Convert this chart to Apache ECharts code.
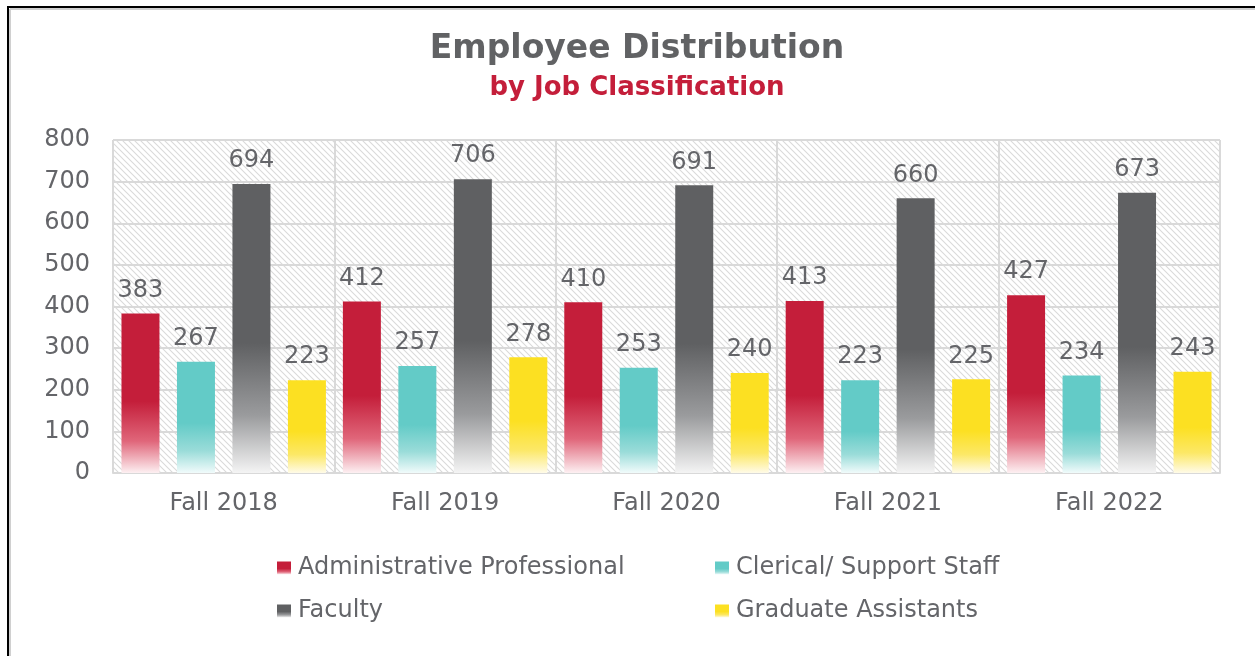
<!DOCTYPE html>
<html>
<head>
<meta charset="utf-8">
<script src="https://cdn.jsdelivr.net/npm/echarts@6/dist/echarts.min.js"></script>
<style>
  html, body { margin: 0; padding: 0; background: #ffffff; }
  #chart { width: 1255px; height: 656px; }
</style>
</head>
<body>
<div id="chart"></div>
<script>
// Headcount by job classification, fall terms
const categories = ['Fall 2018', 'Fall 2019', 'Fall 2020', 'Fall 2021', 'Fall 2022'];
const seriesNames = ['Administrative Professional', 'Clerical/ Support Staff', 'Faculty', 'Graduate Assistants'];
const adminProfessional = [383, 412, 410, 413, 427];
const clericalSupport = [267, 257, 253, 223, 234];
const faculty = [694, 706, 691, 660, 673];
const graduateAssistants = [223, 278, 240, 225, 243];
const yTicks = [0, 100, 200, 300, 400, 500, 600, 700, 800];

const FONT = '"DejaVu Sans", sans-serif';
const TEXT = '#646569';

// Diagonal hatch used behind the plot
function hatchPattern() {
  const c = document.createElement('canvas');
  const s = 6;
  c.width = s; c.height = s;
  const g = c.getContext('2d');
  g.fillStyle = '#ffffff';
  g.fillRect(0, 0, s, s);
  g.strokeStyle = '#dadada';
  g.lineWidth = 1.1;
  g.beginPath();
  g.moveTo(-1, -1); g.lineTo(s + 1, s + 1);
  g.moveTo(-1, s - 1); g.lineTo(1, s + 1);
  g.moveTo(s - 1, -1); g.lineTo(s + 1, 1);
  g.stroke();
  return { image: c, repeat: 'repeat' };
}

function fade(color, mid, tail) {
  return new echarts.graphic.LinearGradient(0, 0, 0, 1, [
    { offset: 0, color: color },
    { offset: 0.55, color: color },
    { offset: 0.8, color: mid },
    { offset: 1, color: tail }
  ]);
}

const palette = [
  fade('#c41e3a', '#e0667a', '#fdf0f2'),
  fade('#63cbc7', '#9adcd9', '#f1fbfb'),
  fade('#5f6062', '#9a9b9d', '#f4f4f4'),
  fade('#fce022', '#fce866', '#fffbe8')
];
const values = [adminProfessional, clericalSupport, faculty, graduateAssistants];

const legendSpots = [
  { left: 277, top: 556 },
  { left: 715, top: 556 },
  { left: 277, top: 599 },
  { left: 715, top: 599 }
];

const chart = echarts.init(document.getElementById('chart'), null, { renderer: 'canvas' });

chart.setOption({
  backgroundColor: '#ffffff',
  animation: false,
  title: [
    {
      text: 'Employee Distribution',
      left: 632, top: 28, textAlign: 'center',
      textStyle: { fontFamily: FONT, fontSize: 33, fontWeight: 'bold', color: '#616264' }
    },
    {
      text: 'by Job Classification',
      left: 632, top: 70, textAlign: 'center',
      textStyle: { fontFamily: FONT, fontSize: 26, fontWeight: 'bold', color: '#c41e3a' }
    }
  ],
  legend: seriesNames.map((n, i) => ({
    data: [n],
    left: legendSpots[i].left,
    top: legendSpots[i].top,
    padding: 0,
    itemWidth: 14,
    itemHeight: 13,
    itemGap: 10,
    icon: 'rect',
    selectedMode: false,
    textStyle: { fontFamily: FONT, fontSize: 24, color: TEXT, padding: [0, 0, 0, 2] }
  })),
  grid: {
    left: 113, right: 35, top: 140, bottom: 183,
    show: true,
    borderWidth: 0,
    backgroundColor: hatchPattern()
  },
  xAxis: {
    type: 'category',
    data: categories,
    axisLine: { show: true, lineStyle: { color: '#d9d9d9', width: 2 } },
    axisTick: { show: false },
    splitLine: { show: true, lineStyle: { color: '#d9d9d9', width: 2 } },
    axisLabel: { fontFamily: FONT, fontSize: 24, color: TEXT, margin: 19 }
  },
  yAxis: {
    type: 'value',
    min: yTicks[0],
    max: yTicks[yTicks.length - 1],
    interval: yTicks[1] - yTicks[0],
    axisLine: { show: false },
    axisTick: { show: false },
    splitLine: { show: true, lineStyle: { color: '#d9d9d9', width: 2 } },
    axisLabel: { fontFamily: FONT, fontSize: 24, color: TEXT, margin: 23 }
  },
  series: seriesNames.map((n, i) => ({
    name: n,
    type: 'bar',
    data: values[i],
    barWidth: 38,
    barGap: '46%',
    itemStyle: { color: palette[i] },
    label: {
      show: true,
      position: 'top',
      distance: 11,
      fontFamily: FONT,
      fontSize: 24,
      color: TEXT
    }
  })),
  graphic: [
    { type: 'line', shape: { x1: 10, y1: 9, x2: 1255, y2: 9 }, style: { stroke: '#d0d0d0', lineWidth: 2 }, silent: true },
    { type: 'line', shape: { x1: 10, y1: 9, x2: 10, y2: 656 }, style: { stroke: '#d0d0d0', lineWidth: 2 }, silent: true },
    { type: 'line', shape: { x1: 7, y1: 7, x2: 1255, y2: 7 }, style: { stroke: '#000000', lineWidth: 2 }, silent: true },
    { type: 'line', shape: { x1: 8, y1: 6, x2: 8, y2: 656 }, style: { stroke: '#000000', lineWidth: 2 }, silent: true }
  ]
});
</script>
</body>
</html>
